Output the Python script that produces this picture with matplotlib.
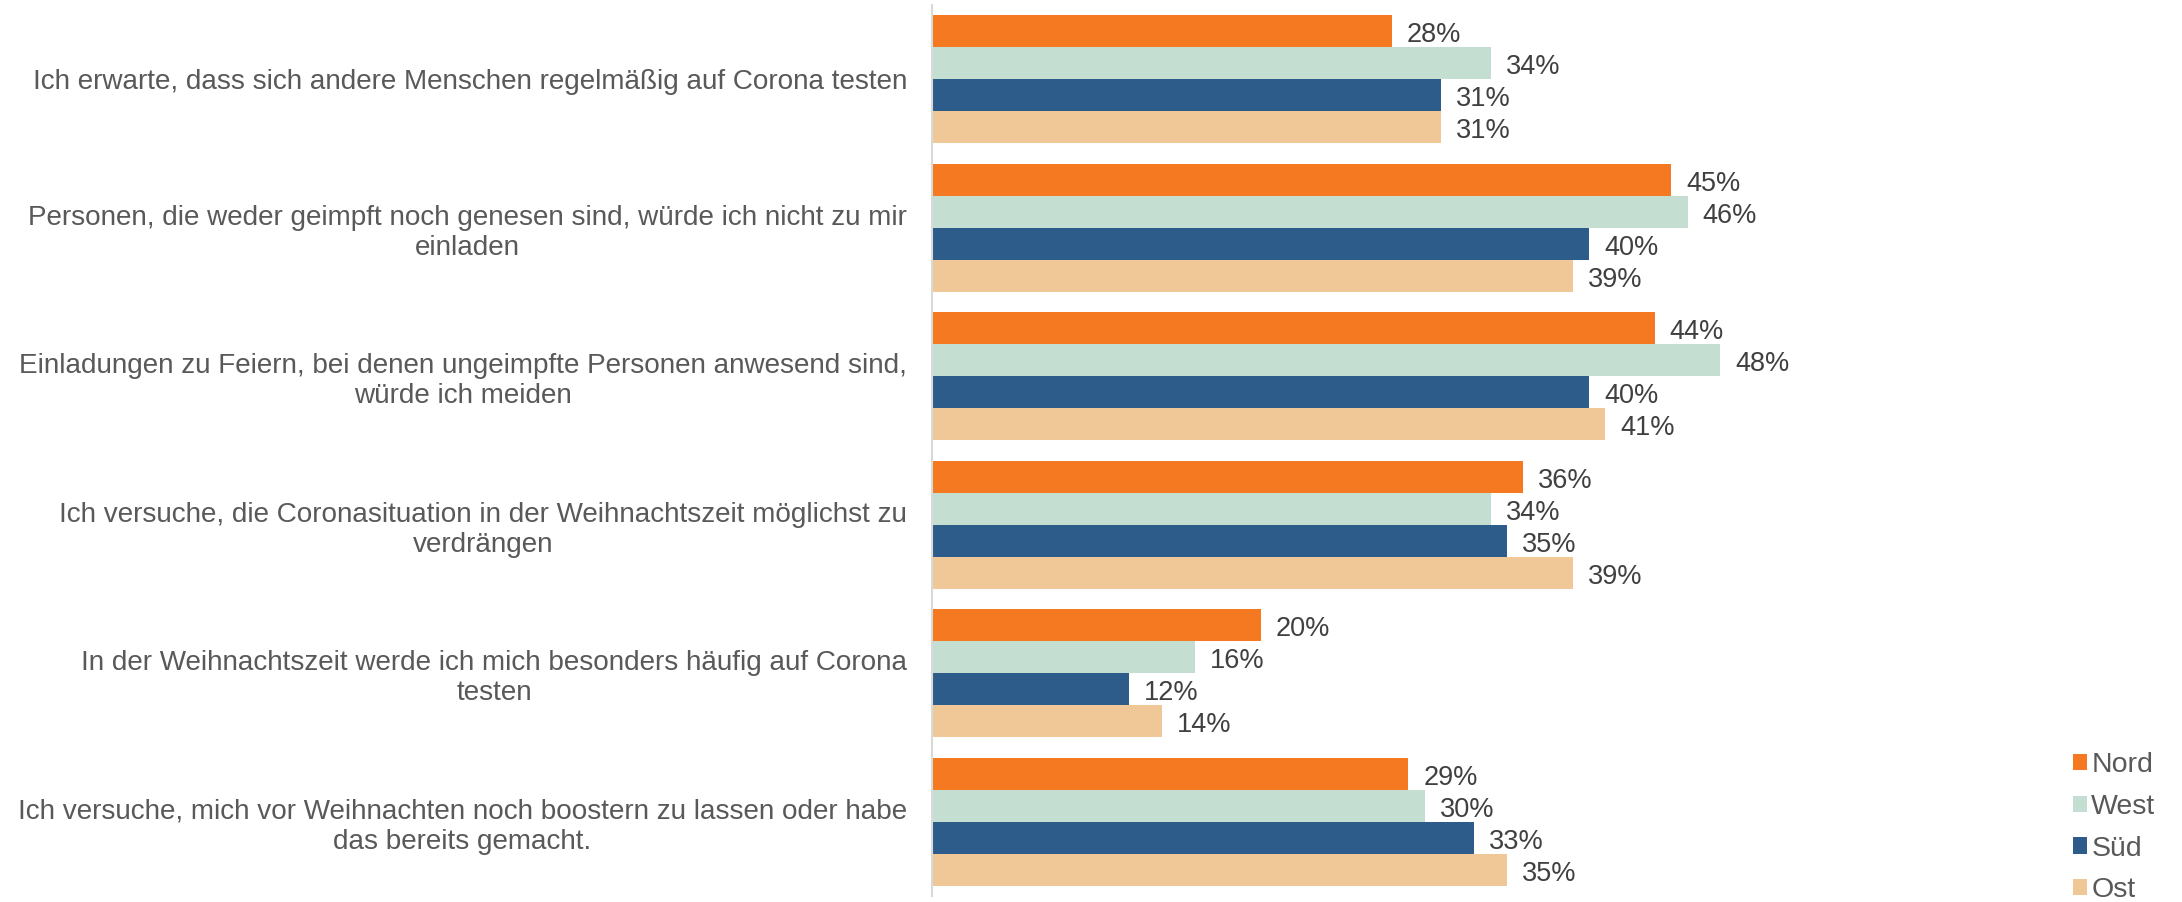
import matplotlib.pyplot as plt
import numpy as np

plt.rcParams['font.family'] = ['Liberation Sans', 'DejaVu Sans']

kategorien = [
    "Ich erwarte, dass sich andere Menschen regelmäßig auf Corona testen",
    "Personen, die weder geimpft noch genesen sind, würde ich nicht zu mir\neinladen",
    "Einladungen zu Feiern, bei denen ungeimpfte Personen anwesend sind,\nwürde ich meiden",
    "Ich versuche, die Coronasituation in der Weihnachtszeit möglichst zu\nverdrängen",
    "In der Weihnachtszeit werde ich mich besonders häufig auf Corona\ntesten",
    "Ich versuche, mich vor Weihnachten noch boostern zu lassen oder habe\ndas bereits gemacht.",
]
regionen = ["Nord", "West", "Süd", "Ost"]
nord = [28, 45, 44, 36, 20, 29]
west = [34, 46, 48, 34, 16, 30]
sued = [31, 40, 40, 35, 12, 33]
ost = [31, 39, 41, 39, 14, 35]
farben = ["#F47920", "#C4DFD1", "#2E5C8A", "#F0C898"]

grau = "#595959"
fig = plt.figure(figsize=(21.82, 9.02), dpi=100)
ax = fig.add_axes([932 / 2182, 6 / 902, 1117 / 2182, 891 / 902])

y = np.arange(len(kategorien))
h = 0.2156
for i, (name, werte) in enumerate(zip(regionen, [nord, west, sued, ost])):
    pos = y + (i - 1.5) * h
    bars = ax.barh(pos, werte, height=h, color=farben[i], label=name)
    for b, w in zip(bars, werte):
        ax.annotate(f"{w}%", (w, b.get_y() + b.get_height() / 2),
                    xytext=(15, -4), textcoords="offset pixels",
                    va="center", ha="left", fontsize=19.5, color="#404040")

ax.set_ylim(len(kategorien) - 0.5, -0.5)
ax.set_xlim(0, 68)
ax.set_yticks(y)
ax.set_yticklabels(kategorien, fontsize=20.1, color=grau, multialignment="center")
ax.tick_params(axis="y", length=0, pad=18)
ax.set_xticks([])
for s in ["top", "right", "bottom"]:
    ax.spines[s].set_visible(False)
ax.spines["left"].set_color("#D9D9D9")
ax.spines["left"].set_linewidth(1.5)

fig.legend(loc="lower left", bbox_to_anchor=(2070 / 2182, -0.0045), frameon=False,
           fontsize=20.5, labelcolor=grau, handlelength=0.5, handleheight=0.5,
           handletextpad=0.15, labelspacing=0.55, borderpad=0.1, borderaxespad=0)

plt.savefig("out.png")
